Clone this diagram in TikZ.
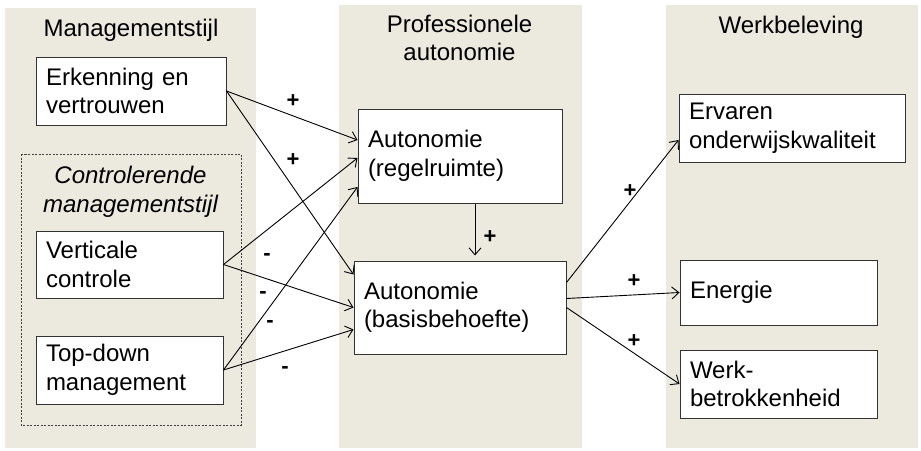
\documentclass[tikz,border=0pt]{standalone}
\usepackage{fontspec}
\setmainfont{Liberation Sans}
\usetikzlibrary{arrows.meta}
\definecolor{panelbg}{RGB}{236,233,223}
\newcommand{\boxfont}{\fontsize{24}{28.5}\selectfont}
\tikzstyle{panel}=[fill=panelbg]
\tikzstyle{box}=[rectangle,draw=black!80,fill=white,line width=1pt,
                 inner xsep=10pt,inner ysep=0pt,align=left]
\tikzstyle{head}=[align=center,inner sep=0pt]
\tikzstyle{groupframe}=[draw=black!75,line width=0.7pt,
                        dash pattern=on 2pt off 1.5pt]
\tikzstyle{link}=[line width=0.9pt,
                  -{Straight Barb[length=7pt,width=12pt]}]
\tikzstyle{sign}=[inner sep=0pt,text height=0.6em,text depth=0pt,yshift=-4pt,
                  font=\fontsize{22}{22}\selectfont\bfseries]

\begin{document}
\begin{tikzpicture}[x=1pt,y=-1pt,font=\boxfont]
    \useasboundingbox (0,0) rectangle (921,450);
    % columns
    \fill[panel] (5,8) rectangle (256,448);
    \fill[panel] (339,5) rectangle (582,448);
    \fill[panel] (666,5) rectangle (918,448);
    \draw[groupframe] (21,154) rectangle (241,425);

    \node (mgmt) at (131,36) [head,anchor=base]{Managementstijl};
    \node (profaut) at (459.5,38) [head]{Professionele\\autonomie};
    \node (werkbel) at (791,33) [head,anchor=base]{Werkbeleving};
    \node (ctrltitle) at (130.5,192) [head,font=\boxfont\itshape]
        {Controlerende\\managementstijl};

    \node (erkenning) at (131,91) [box,text width=170pt,minimum height=68pt]
        {Erkenning en\\vertrouwen};
    \node (vertcontrole) at (129.5,264.5) [box,text width=167pt,minimum height=67pt]
        {Verticale\\controle};
    \node (topdown) at (129.5,370) [box,text width=167pt,minimum height=68pt]
        {Top-down\\management};
    \node (regelruimte) at (460,156) [box,text width=184pt,minimum height=94pt]
        {Autonomie\\(regelruimte)};
    \node (basisbehoefte) at (460,307.5) [box,text width=192pt,minimum height=93pt]
        {Autonomie\\(basisbehoefte)};
    \node (ervaren) at (792,128) [box,text width=206pt,minimum height=68pt]
        {Ervaren\\onderwijskwaliteit};
    \node (energie) at (778.5,292.5) [box,text width=177pt,minimum height=65pt]
        {Energie};
    \node (werk) at (778.5,384) [box,text width=177pt,minimum height=68pt]
        {Werk-\\betrokkenheid};

    % effects
    \draw[link] (erkenning.east) -- ([yshift=16pt]regelruimte.west);
    \draw[link] (erkenning.east) -- ([yshift=-14pt]basisbehoefte.north west);
    \draw[link] (vertcontrole.east) -- ([yshift=-2pt]regelruimte.west);
    \draw[link] (vertcontrole.east) -- (basisbehoefte.west);
    \draw[link] (topdown.east) -- ([yshift=-31pt]regelruimte.west);
    \draw[link] (topdown.east) -- ([yshift=-22pt]basisbehoefte.west);
    \draw[link] ([xshift=15pt]regelruimte.south)
        -- ([xshift=15pt,yshift=5pt]basisbehoefte.north);
    \draw[link] ([yshift=25pt]basisbehoefte.east) -- ([yshift=-12pt]ervaren.west);
    \draw[link] ([yshift=9pt]basisbehoefte.east) -- (energie.west);
    \draw[link] (basisbehoefte.east) -- (werk.west);

    \node (s1) at (293,100) [sign]{+};
    \node (s2) at (293,159) [sign]{+};
    \node (s3) at (267,253) [sign]{-};
    \node (s4) at (263,291) [sign]{-};
    \node (s5) at (270,320) [sign]{-};
    \node (s6) at (285,366) [sign]{-};
    \node (s7) at (490,236) [sign]{+};
    \node (s8) at (630,190) [sign]{+};
    \node (s9) at (634,280) [sign]{+};
    \node (s10) at (634,340) [sign]{+};
\end{tikzpicture}
\end{document}
